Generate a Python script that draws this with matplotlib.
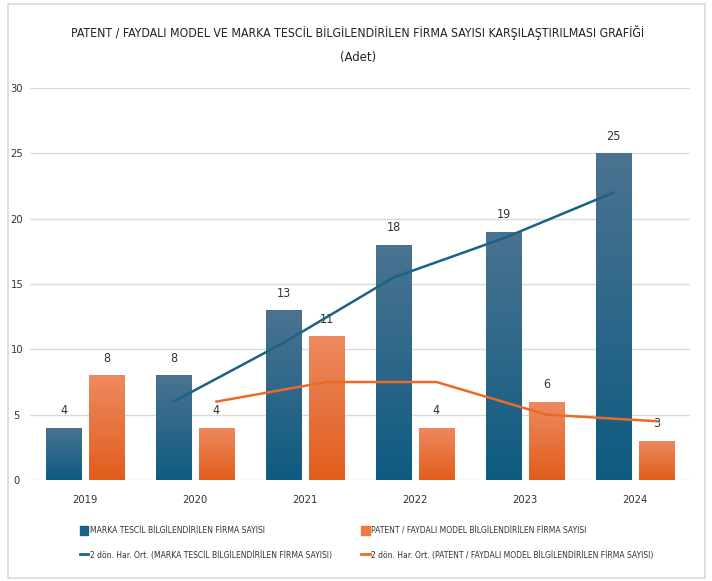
import matplotlib.pyplot as plt
import numpy as np
from matplotlib.patches import Rectangle
from matplotlib.lines import Line2D
from matplotlib.colors import LinearSegmentedColormap

plt.rcParams['font.family'] = ['DejaVu Sans']
plt.rcParams['font.stretch'] = 'condensed'

yillar = ["2019", "2020", "2021", "2022", "2023", "2024"]
marka = [4, 8, 13, 18, 19, 25]
patent = [8, 4, 11, 4, 6, 3]

ad_marka = "MARKA TESCİL BİLGİLENDİRİLEN FİRMA SAYISI"
ad_patent = "PATENT / FAYDALI MODEL BİLGİLENDİRİLEN FİRMA SAYISI"
baslik = "PATENT / FAYDALI MODEL VE MARKA TESCİL BİLGİLENDİRİLEN FİRMA SAYISI KARŞILAŞTIRILMASI GRAFİĞİ"

MAVI = "#1b6287"
TURUNCU = "#ec6a28"


def hareketli_ort(degerler, n=2):
    return [np.mean(degerler[i - n + 1:i + 1]) for i in range(n - 1, len(degerler))]


def gradyan_bar(ax, bars, ust, alt):
    cmap = LinearSegmentedColormap.from_list("g", [alt, ust])
    grad = np.linspace(0, 1, 256).reshape(-1, 1)
    for b in bars:
        x0, y0 = b.get_x(), b.get_y()
        w, h = b.get_width(), b.get_height()
        im = ax.imshow(grad, cmap=cmap, origin="lower", aspect="auto",
                       extent=[x0, x0 + w, y0, y0 + h], zorder=2)
        im.set_clip_path(b)


fig = plt.figure(figsize=(7.12, 5.81), dpi=100)
fig.patches.append(Rectangle((8 / 712, 3 / 581), 697 / 712, 574 / 581,
                             transform=fig.transFigure, fill=False,
                             edgecolor="#d9d9d9", linewidth=1.2))

ax = fig.add_axes([30 / 712, 1 - 480 / 581, 660 / 712, 392 / 581])
x = np.arange(len(yillar))
gen = 0.32
ofs = 0.195

b1 = ax.bar(x - ofs, marka, gen, color="none", zorder=2)
b2 = ax.bar(x + ofs, patent, gen, color="none", zorder=2)
gradyan_bar(ax, b1, "#4b7391", "#0e5b81")
gradyan_bar(ax, b2, "#ee8a60", "#e05d1c")

for bars, vals in ((b1, marka), (b2, patent)):
    for b, v in zip(bars, vals):
        ax.text(b.get_x() + b.get_width() / 2, v + 0.8, str(v),
                ha="center", va="bottom", fontsize=9, color="#333333")

ax.plot(x[1:] - ofs, hareketli_ort(marka), color=MAVI, lw=1.8, zorder=3)
ax.plot(x[1:] + ofs, hareketli_ort(patent), color=TURUNCU, lw=1.8, zorder=3)

ax.set_xlim(-0.5, len(yillar) - 0.5)
ax.set_ylim(0, 30)
ax.set_yticks(range(0, 31, 5))
ax.set_xticks(x)
ax.set_xticklabels(yillar)
ax.yaxis.grid(True, color="#d9d9d9", lw=1)
ax.set_axisbelow(True)
for s in ax.spines.values():
    s.set_visible(False)
ax.tick_params(length=0, labelsize=8, labelcolor="#333333")
ax.tick_params(axis="x", pad=11)
ax.tick_params(axis="y", pad=9.5)
for lbl in ax.get_yticklabels():
    lbl.set_horizontalalignment("center")

# metin genişliğini referanstaki piksele sığdır
renderer = fig.canvas.get_renderer()


def sigdir(txt, hedef_px):
    w = txt.get_window_extent(renderer).width
    txt.set_fontsize(txt.get_fontsize() * hedef_px / w)


t1 = fig.text(358 / 712, 1 - 33 / 581, baslik, ha="center", va="center",
              fontsize=12, color="#222222")
sigdir(t1, 575)
fig.text(358 / 712, 1 - 58 / 581, "(Adet)", ha="center", va="center",
         fontsize=t1.get_fontsize() + 0.5, color="#222222")

olcu = fig.text(0, 0, "2 dön. Har. Ort. (" + ad_patent + ")", fontsize=9)
sigdir(olcu, 285)
leg_fs = olcu.get_fontsize()
olcu.remove()

handles = [
    Rectangle((0, 0), 1, 1, color="#1b6287"),
    Line2D([], [], color=MAVI, lw=2),
    Rectangle((0, 0), 1, 1, color="#ee7a40"),
    Line2D([], [], color=TURUNCU, lw=2),
]
labels = [
    ad_marka,
    "2 dön. Har. Ort. (" + ad_marka + ")",
    ad_patent,
    "2 dön. Har. Ort. (" + ad_patent + ")",
]
leg = fig.legend(handles, labels, ncol=2, loc="upper left",
                 bbox_to_anchor=(72 / 712, 1 - 518 / 581), frameon=False,
                 fontsize=leg_fs, handlelength=1.0, handleheight=1.3,
                 handletextpad=0.15, columnspacing=3.5, labelspacing=1.8,
                 labelcolor="#333333")

fig.savefig("out.png", dpi=100)
